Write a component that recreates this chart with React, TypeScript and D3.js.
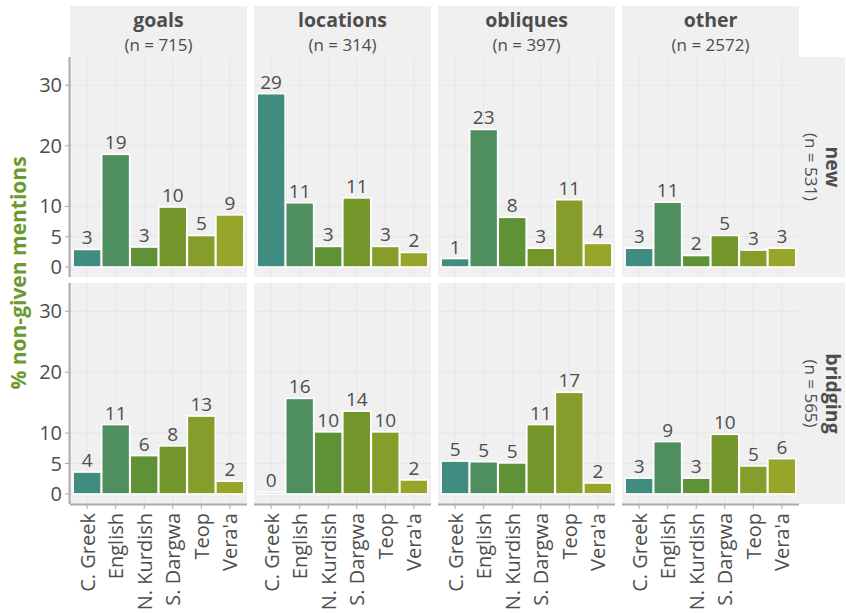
import React from "react";
import * as d3 from "d3";

const languages = ["C. Greek", "English", "N. Kurdish", "S. Dargwa", "Teop", "Vera'a"];
const langColors = ["#418c80", "#4f8f5f", "#5f9237", "#73962a", "#879d2b", "#97a52b"];
const columns = ["goals", "locations", "obliques", "other"];
const columnN = [715, 314, 397, 2572];
const rows = ["new", "bridging"];
const rowN = [531, 565];

// values (%) per column, row "new"
const newGoals = [2.9, 18.6, 3.3, 9.9, 5.2, 8.6];
const newLocations = [28.6, 10.6, 3.4, 11.4, 3.4, 2.4];
const newObliques = [1.4, 22.7, 8.2, 3.1, 11.1, 3.9];
const newOther = [3.1, 10.7, 1.9, 5.2, 2.8, 3.1];
// row "bridging"
const bridgingGoals = [3.6, 11.4, 6.3, 7.9, 12.8, 2.1];
const bridgingLocations = [0.3, 15.7, 10.2, 13.6, 10.2, 2.3];
const bridgingObliques = [5.4, 5.3, 5.1, 11.4, 16.7, 1.8];
const bridgingOther = [2.6, 8.6, 2.6, 9.8, 4.6, 5.8];

const yTicks = [0, 5, 10, 20, 30];

const data = [
  [newGoals, newLocations, newObliques, newOther],
  [bridgingGoals, bridgingLocations, bridgingObliques, bridgingOther],
];

const W = 846;
const H = 614;
const FONT = "'Open Sans', 'DejaVu Sans', sans-serif";
const TXT = "#4d4d4d";
const BG = "#f0f0f0";
const GRID = "#e6e6e6";
const AXIS = "#ababab";

export default function App() {
  const colScale = d3.scaleBand<string>().domain(columns).range([70, 799]).paddingInner(7 / 184).paddingOuter(0);
  const pw = colScale.bandwidth();
  const xScale = d3.scalePoint<string>().domain(languages).range([0, pw]).padding(0.6);
  const step = xScale.step();
  const rowRanges: [number, number][] = [
    [277, 57],
    [504, 283],
  ];
  const yScales = rowRanges.map((r) => d3.scaleLinear().domain([-1.65, 34.65]).range(r));
  const headerTop = 6;
  const stripX0 = 799;
  const stripX1 = 845;

  return (
    <svg width={W} height={H} style={{ position: "absolute", left: 0, top: 0 }} fontFamily={FONT}>
      <rect x={0} y={0} width={W} height={H} fill="white" />
      {/* column headers */}
      {columns.map((c, ci) => {
        const x0 = colScale(c)!;
        return (
          <g key={"h" + c}>
            <rect x={x0} y={headerTop} width={pw} height={57 - headerTop} fill={BG} />
            <text x={x0 + pw / 2} y={27} textAnchor="middle" fontWeight="bold" fontSize={19.5} fill={TXT}>
              {c}
            </text>
            <text x={x0 + pw / 2} y={51} textAnchor="middle" fontSize={17} fill={TXT}>
              {`(n = ${columnN[ci]})`}
            </text>
          </g>
        );
      })}
      {/* row strips */}
      {rows.map((r, ri) => {
        const [yb, yt] = rowRanges[ri];
        const cy = (yb + yt) / 2;
        return (
          <g key={"s" + r}>
            <rect x={stripX0} y={yt} width={stripX1 - stripX0} height={yb - yt} fill={BG} />
            <text
              transform={`translate(${833},${cy}) rotate(90)`}
              textAnchor="middle"
              dominantBaseline="central"
              fontWeight="bold"
              fontSize={19.5}
              fill={TXT}
            >
              {r}
            </text>
            <text
              transform={`translate(${811},${cy}) rotate(90)`}
              textAnchor="middle"
              dominantBaseline="central"
              fontSize={17}
              fill={TXT}
            >
              {`(n = ${rowN[ri]})`}
            </text>
          </g>
        );
      })}
      {/* panels */}
      {rows.map((r, ri) => {
        const ys = yScales[ri];
        const [yb, yt] = rowRanges[ri];
        return columns.map((c, ci) => {
          const x0 = colScale(c)!;
          const vals = data[ri][ci];
          return (
            <g key={r + c}>
              <rect x={x0} y={yt} width={pw} height={yb - yt} fill={BG} />
              {yTicks.map((t) => (
                <line key={"gy" + t} x1={x0} x2={x0 + pw} y1={ys(t)} y2={ys(t)} stroke={GRID} strokeWidth={1} />
              ))}
              {languages.map((l) => (
                <line
                  key={"gx" + l}
                  x1={x0 + xScale(l)!}
                  x2={x0 + xScale(l)!}
                  y1={yt}
                  y2={yb}
                  stroke={GRID}
                  strokeWidth={1}
                />
              ))}
              {languages.map((l, li) => {
                const cx = x0 + xScale(l)!;
                const v = vals[li];
                const bw = step * 0.98;
                return (
                  <g key={"b" + l}>
                    <rect
                      x={cx - bw / 2}
                      y={ys(v)}
                      width={bw}
                      height={ys(0) - ys(v)}
                      fill={langColors[li]}
                      stroke="white"
                      strokeWidth={1.6}
                    />
                    <text x={cx} y={ys(v) - 5} textAnchor="middle" fontSize={19} fill={TXT}>
                      {Math.round(v)}
                    </text>
                  </g>
                );
              })}
              {ci === 0 && (
                <g>
                  <line x1={x0 - 0.5} x2={x0 - 0.5} y1={yt} y2={yb} stroke={AXIS} strokeWidth={2} />
                  {yTicks.map((t) => (
                    <g key={"yt" + t}>
                      <line x1={x0 - 5} x2={x0 - 1} y1={ys(t)} y2={ys(t)} stroke={AXIS} strokeWidth={1} />
                      <text x={x0 - 8} y={ys(t)} dy="0.35em" textAnchor="end" fontSize={20} fill={TXT}>
                        {t}
                      </text>
                    </g>
                  ))}
                </g>
              )}
              {ri === rows.length - 1 && (
                <g>
                  <line x1={x0} x2={x0 + pw} y1={yb + 0.5} y2={yb + 0.5} stroke={AXIS} strokeWidth={2} />
                  {languages.map((l) => {
                    const cx = x0 + xScale(l)!;
                    return (
                      <g key={"xt" + l}>
                        <line x1={cx} x2={cx} y1={yb + 1} y2={yb + 5} stroke={AXIS} strokeWidth={1} />
                        <text
                          transform={`translate(${cx},${yb + 9}) rotate(-90)`}
                          textAnchor="end"
                          dominantBaseline="central"
                          fontSize={20}
                          fill={TXT}
                        >
                          {l}
                        </text>
                      </g>
                    );
                  })}
                </g>
              )}
            </g>
          );
        });
      })}
      {/* y-axis title */}
      <text
        transform={`translate(${18},${273}) rotate(-90)`}
        textAnchor="middle"
        dominantBaseline="central"
        fontWeight="bold"
        fontSize={21}
        fill="#6b9a2b"
      >
        % non-given mentions
      </text>
    </svg>
  );
}
